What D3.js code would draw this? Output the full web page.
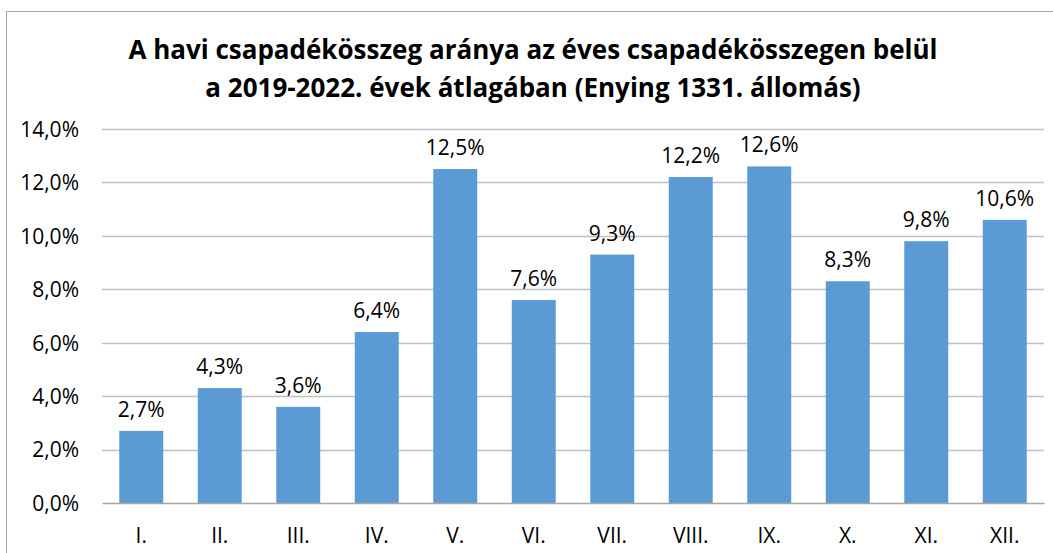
<!DOCTYPE html>
<html>
<head>
<meta charset="utf-8">
<script src="https://cdn.jsdelivr.net/npm/d3@7"></script>
<style>
  body { margin: 0; background: #fff; }
  svg text { font-family: "Open Sans", "DejaVu Sans", sans-serif; fill: #000; }
</style>
</head>
<body>
<div id="chart"></div>
<script>
// Chart data
const months = ["I.", "II.", "III.", "IV.", "V.", "VI.", "VII.", "VIII.", "IX.", "X.", "XI.", "XII."];
const shares = [2.7, 4.3, 3.6, 6.4, 12.5, 7.6, 9.3, 12.2, 12.6, 8.3, 9.8, 10.6];
const yTicks = [0, 2, 4, 6, 8, 10, 12, 14];
const titleLines = [
  "A havi csapadékösszeg aránya az éves csapadékösszegen belül",
  "a 2019-2022. évek átlagában (Enying 1331. állomás)"
];

const W = 1053, H = 553;
const margin = {top: 129, right: 9, bottom: 50, left: 102};
const width = W - margin.left - margin.right;
const height = H - margin.top - margin.bottom;

const fmt = v => v.toFixed(1).replace(".", ",") + "%";

const svg = d3.select("#chart").append("svg")
  .attr("width", W)
  .attr("height", H);

// outer chart border
svg.append("rect")
  .attr("x", 6.5).attr("y", 11.5)
  .attr("width", W + 20).attr("height", H + 20)
  .attr("fill", "none")
  .attr("stroke", "#a6a6a6");

// title
svg.append("g").selectAll("text")
  .data(titleLines)
  .enter()
  .append("text")
  .attr("x", 533)
  .attr("y", (d, i) => 59 + i * 38)
  .attr("text-anchor", "middle")
  .style("font-size", "26px")
  .style("font-weight", "bold")
  .text(d => d);

const g = svg.append("g")
  .attr("transform", `translate(${margin.left},${margin.top})`);

const x = d3.scaleBand()
  .domain(months)
  .range([0, width])
  .paddingInner(0.44)
  .paddingOuter(0.22);

const y = d3.scaleLinear()
  .domain([0, 14])
  .range([height, 0]);

// gridlines
g.append("g").selectAll("line")
  .data(yTicks.filter(t => t > 0))
  .enter()
  .append("line")
  .attr("x1", 0).attr("x2", width)
  .attr("y1", d => Math.round(y(d)) + 0.5)
  .attr("y2", d => Math.round(y(d)) + 0.5)
  .attr("stroke", "#c0c0c0")
  .attr("stroke-width", 1.5);

// y axis labels
const yAxis = g.append("g")
  .call(d3.axisLeft(y).tickValues(yTicks).tickFormat(fmt).tickSize(0).tickPadding(23));
yAxis.select(".domain").remove();
yAxis.selectAll("text").style("font-size", "21px").attr("dy", "0.35em");

// bars
g.selectAll("rect.bar")
  .data(shares)
  .enter()
  .append("rect")
  .attr("class", "bar")
  .attr("x", (d, i) => x(months[i]))
  .attr("y", d => y(d))
  .attr("width", x.bandwidth())
  .attr("height", d => height - y(d))
  .attr("fill", "#5b9bd5");

// value labels
g.selectAll("text.val")
  .data(shares)
  .enter()
  .append("text")
  .attr("class", "val")
  .attr("x", (d, i) => x(months[i]) + x.bandwidth() / 2)
  .attr("y", d => y(d) - 14)
  .attr("text-anchor", "middle")
  .style("font-size", "21px")
  .text(fmt);

// x axis
const xAxis = g.append("g")
  .attr("transform", `translate(0,${height})`)
  .call(d3.axisBottom(x).tickSize(0).tickPadding(25));
xAxis.select(".domain")
  .attr("stroke", "#a6a6a6")
  .attr("stroke-width", 1.5);
xAxis.selectAll("text").style("font-size", "21px");
</script>
</body>
</html>
